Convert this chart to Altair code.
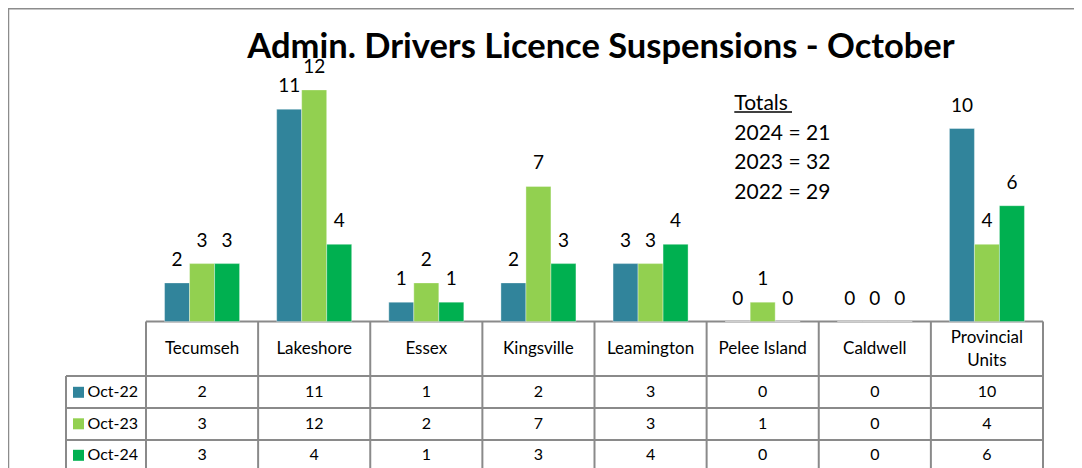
import altair as alt
import pandas as pd

# ---------------- data ----------------
categories = ["Tecumseh", "Lakeshore", "Essex", "Kingsville", "Leamington",
              "Pelee Island", "Caldwell", "Provincial Units"]
header_labels = ["Tecumseh", "Lakeshore", "Essex", "Kingsville", "Leamington",
                 "Pelee Island", "Caldwell", ["Provincial", "Units"]]
series = ["Oct-22", "Oct-23", "Oct-24"]
oct22 = [2, 11, 1, 2, 3, 0, 0, 10]
oct23 = [3, 12, 2, 7, 3, 1, 0, 4]
oct24 = [3, 4, 1, 3, 4, 0, 0, 6]
colors = ["#31849B", "#92D050", "#00B050"]
title_text = "Admin. Drivers Licence Suspensions - October"
total_years = ["2024", "2023", "2022"]

rows = []
for s, vals in zip(series, [oct22, oct23, oct24]):
    for c, v in zip(categories, vals):
        rows.append({"category": c, "series": s, "value": v})
df = pd.DataFrame(rows)

totals_lines = ["Totals"] + [
    f"{y} = {sum(v)}" for y, v in zip(total_years, [oct24, oct23, oct22])
]

# ---------------- layout constants ----------------
FONT = "Lato"
W = 897          # plot area width (table columns)
H = 460
BASE = 313.5     # bar baseline (plot coords)
TOP12 = 81.9     # y for value 12
GRID = "#8a8a8a"

xscale = alt.Scale(type="band", domain=categories, paddingInner=0, paddingOuter=0)
offscale = alt.Scale(domain=series, paddingInner=0, paddingOuter=0.742)
yscale = alt.Scale(domain=[0, 12], range=[BASE, TOP12], nice=False, zero=True)
rowscale = alt.Scale(type="point", domain=series, range=[384.3, 447.3], padding=0)
cscale = alt.Scale(domain=series, range=colors)

one = alt.Data(values=[{"a": 1}])

bars = alt.Chart(df).mark_bar(stroke="white", strokeWidth=0.6, strokeOpacity=0.6).encode(
    x=alt.X("category:N", scale=xscale, axis=None, sort=categories),
    xOffset=alt.XOffset("series:N", scale=offscale, sort=series),
    y=alt.Y("value:Q", scale=yscale, axis=None),
    color=alt.Color("series:N", scale=cscale, legend=None),
)

labels = alt.Chart(df).mark_text(
    font=FONT, fontSize=19, baseline="alphabetic", dy=-17, color="black"
).encode(
    x=alt.X("category:N", scale=xscale, axis=None, sort=categories, bandPosition=0.5),
    xOffset=alt.XOffset("series:N", scale=offscale, sort=series),
    y=alt.Y("value:Q", scale=yscale, axis=None),
    text=alt.Text("value:Q"),
)

title = alt.Chart(one).mark_text(
    font=FONT, fontSize=34.5, fontWeight="bold", baseline="alphabetic", align="center", color="black"
).encode(x=alt.value(455), y=alt.value(49.5), text=alt.value(title_text))

totals = alt.Chart(one).mark_text(
    font=FONT, fontSize=21, baseline="alphabetic", align="left", lineHeight=29.5, color="black"
).encode(x=alt.value(588.3), y=alt.value(102), text=alt.value(totals_lines))

underline = alt.Chart(one).mark_rule(color="black", strokeWidth=1.5).encode(
    x=alt.value(588.3), x2=alt.value(646), y=alt.value(104)
)

# table grid
hlines = []
for (x0, yv) in [(0, BASE), (-80, 368), (-80, 400), (-80, 432)]:
    hlines.append(
        alt.Chart(one).mark_rule(color=GRID, strokeWidth=2).encode(
            x=alt.value(x0), x2=alt.value(W), y=alt.value(yv)
        )
    )
cat_df = pd.DataFrame({"category": categories, "label": header_labels})
vlines = alt.Chart(cat_df).mark_rule(color=GRID, strokeWidth=2).encode(
    x=alt.X("category:N", scale=xscale, axis=None, sort=categories, bandPosition=0),
    y=alt.value(BASE), y2=alt.value(H + 10),
)
vright = alt.Chart(one).mark_rule(color=GRID, strokeWidth=2).encode(
    x=alt.value(W), y=alt.value(BASE), y2=alt.value(H + 10)
)
vleft = alt.Chart(one).mark_rule(color=GRID, strokeWidth=2).encode(
    x=alt.value(-80), y=alt.value(368), y2=alt.value(H + 10)
)

header_single = alt.Chart(cat_df).transform_filter(
    "!isArray(datum.label)"
).mark_text(
    font=FONT, fontSize=17, baseline="middle", align="center", color="black"
).encode(
    x=alt.X("category:N", scale=xscale, axis=None, sort=categories, bandPosition=0.5),
    y=alt.value(341),
    text=alt.Text("label"),
)
header_multi = alt.Chart(cat_df).transform_filter(
    "isArray(datum.label)"
).mark_text(
    font=FONT, fontSize=17, baseline="middle", align="center", lineHeight=23, color="black"
).encode(
    x=alt.X("category:N", scale=xscale, axis=None, sort=categories, bandPosition=0.5),
    y=alt.value(329.5),
    text=alt.Text("label"),
)

cells = alt.Chart(df).mark_text(
    font=FONT, fontSize=16, baseline="middle", align="center", color="black"
).encode(
    x=alt.X("category:N", scale=xscale, axis=None, sort=categories, bandPosition=0.5),
    y=alt.Y("series:N", scale=rowscale, axis=None),
    text=alt.Text("value:Q"),
)

ser_df = pd.DataFrame({"series": series})
leg_sq = alt.Chart(ser_df).mark_square(size=121, opacity=1).encode(
    x=alt.value(-67.5),
    y=alt.Y("series:N", scale=rowscale, axis=None),
    color=alt.Color("series:N", scale=cscale, legend=None),
)
leg_tx = alt.Chart(ser_df).mark_text(
    font=FONT, fontSize=16, baseline="middle", align="left", color="black"
).encode(
    x=alt.value(-58.5),
    y=alt.Y("series:N", scale=rowscale, axis=None),
    text=alt.Text("series:N"),
)

# outer frame
frame_top = alt.Chart(one).mark_rule(color="#8c8c8c", strokeWidth=1.5).encode(
    x=alt.value(-137.5), x2=alt.value(W + 40), y=alt.value(0.75)
)
frame_left = alt.Chart(one).mark_rule(color="#8c8c8c", strokeWidth=1.5).encode(
    x=alt.value(-137.5), y=alt.value(0), y2=alt.value(H + 10)
)

chart = alt.layer(
    frame_top, frame_left,
    *hlines, vlines, vright, vleft,
    bars, labels, title, totals, underline,
    header_single, header_multi, cells, leg_sq, leg_tx,
).resolve_scale(
    y="independent"
).properties(
    width=W, height=H,
    autosize=alt.AutoSizeParams(type="none"),
    padding={"left": 138, "top": 0, "right": 31, "bottom": 0},
).configure_view(stroke=None)

chart.save("out.html", embed_options={"renderer": "svg", "actions": False})
